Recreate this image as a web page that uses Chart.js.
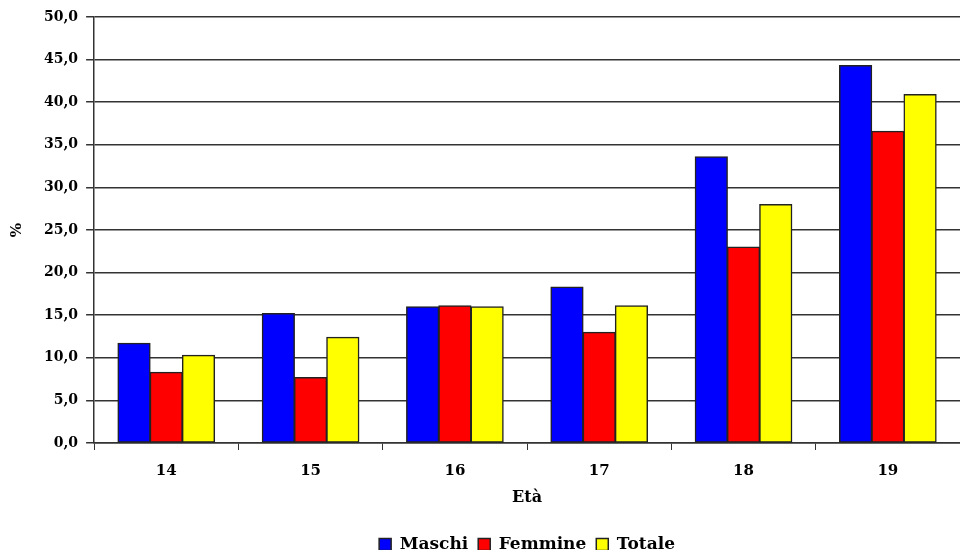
<!DOCTYPE html>
<html>
<head>
<meta charset="utf-8">
<script src="https://cdn.jsdelivr.net/npm/chart.js@4"></script>
<style>
  html, body { margin: 0; padding: 0; background: #fff; }
  #wrap { width: 960px; height: 550px; }
</style>
</head>
<body>
<div id="wrap"><canvas id="chart"></canvas></div>
<script>
const eta = ['14', '15', '16', '17', '18', '19'];
const maschi = [11.7, 15.2, 16.0, 18.3, 33.6, 44.3];
const femmine = [8.3, 7.7, 16.1, 13.0, 23.0, 36.6];
const totale = [10.3, 12.4, 16.0, 16.1, 28.0, 40.9];

const serif = "'DejaVu Serif', 'Liberation Serif', serif";

const ctx = document.getElementById('chart').getContext('2d');
const chart = new Chart(ctx, {
    type: 'bar',
    data: {
        labels: eta,
        datasets: [
            { label: 'Maschi', data: maschi, backgroundColor: '#0000ff' },
            { label: 'Femmine', data: femmine, backgroundColor: '#ff0000' },
            { label: 'Totale', data: totale, backgroundColor: '#ffff00' }
        ].map(d => Object.assign(d, {
            borderColor: '#222',
            borderWidth: 1.5,
            borderSkipped: false,
            inflateAmount: 0.5,
            categoryPercentage: 0.67,
            barPercentage: 1.0
        }))
    },
    options: {
        responsive: true,
        maintainAspectRatio: false,
        animation: false,
        layout: { padding: { left: 4, right: 0, top: 17, bottom: -13 } },
        plugins: {
            legend: {
                position: 'bottom',
                fullSize: false,
                labels: {
                    color: '#000',
                    font: { family: serif, size: 17, weight: 'bold' },
                    boxWidth: 12,
                    boxHeight: 12,
                    padding: 10
                }
            },
            tooltip: { enabled: false }
        },
        scales: {
            x: {
                grid: { display: true, drawOnChartArea: false, drawTicks: true, tickLength: 7, color: '#333', offset: true },
                border: { color: '#333', width: 1.5 },
                ticks: { color: '#000', font: { family: serif, size: 15, weight: 'bold', lineHeight: 1 }, padding: 14 },
                title: { display: true, text: 'Età', color: '#000', font: { family: serif, size: 16, weight: 'bold', lineHeight: 1 }, padding: { top: -3, bottom: 20 } }
            },
            y: {
                min: 0,
                max: 50,
                ticks: {
                    stepSize: 5,
                    color: '#000',
                    font: { family: serif, size: 14, weight: 'bold' },
                    padding: 8,
                    callback: v => v.toFixed(1).replace('.', ',')
                },
                grid: { color: '#333', lineWidth: 1.5, tickLength: 8 },
                border: { color: '#333', width: 1.5 },
                title: { display: true, text: '%', color: '#000', font: { family: serif, size: 15, weight: 'bold' }, padding: { bottom: 10 } }
            }
        }
    }
});
</script>
</body>
</html>
